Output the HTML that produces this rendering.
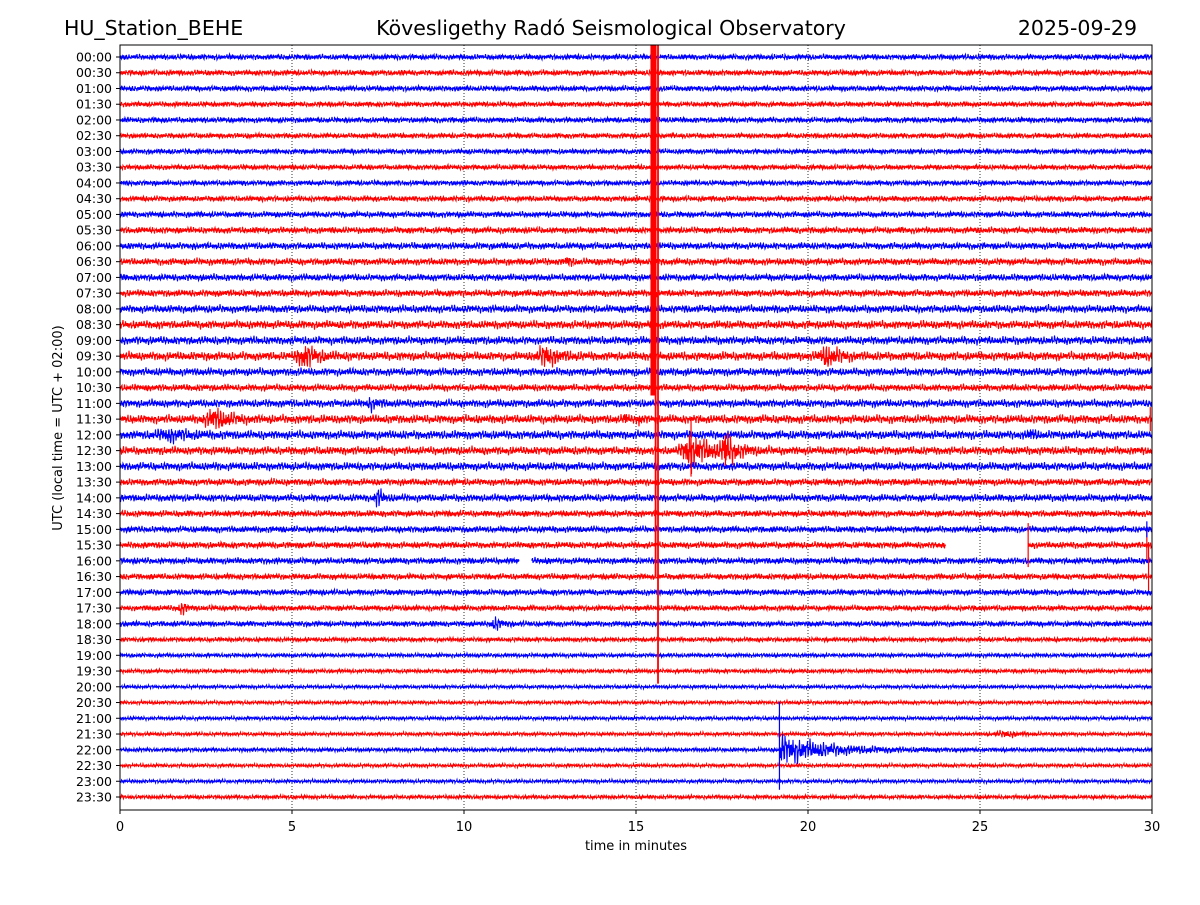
<!DOCTYPE html>
<html><head><meta charset="utf-8">
<style>
body{margin:0;background:#fff;}
svg text{font-family:"DejaVu Sans","Liberation Sans",sans-serif;}
</style></head>
<body>
<svg id="chart" width="1200" height="900" xmlns="http://www.w3.org/2000/svg">
<rect width="1200" height="900" fill="#fff"/>
<text x="64" y="35" font-size="20.5">HU_Station_BEHE</text>
<text x="611" y="35" font-size="20.5" text-anchor="middle">Kövesligethy Radó Seismological Observatory</text>
<text x="1137" y="35" font-size="20.5" text-anchor="end">2025-09-29</text>
<defs><clipPath id="clip"><rect x="120" y="45" width="1032" height="765"/></clipPath></defs>
<g id="grid"></g>
<g id="traces" clip-path="url(#clip)"></g>
<rect x="120" y="45" width="1032" height="765" fill="none" stroke="#000" stroke-width="1"/>
<g id="axes"></g>
<text x="636" y="850" font-size="13" text-anchor="middle">time in minutes</text>
<text transform="translate(62,428) rotate(-90)" font-size="13" text-anchor="middle">UTC (local time = UTC + 02:00)</text>
</svg>
<script>
const rowLabels = [];
for (let h = 0; h < 24; h++) { const hh = String(h).padStart(2,'0'); rowLabels.push(hh+':00', hh+':30'); }
const xTicks = [0,5,10,15,20,25,30];
const noiseLevel = [2.4,2.4,2.4,2.2,2.4,2.2,2.2,2.2,2.2,2.4,2.6,2.8,3,3,3,3,3.4,3.6,3.6,3.8,3.4,3,3.4,3.8,3.8,3.6,3.6,3,3.2,2.8,2.8,2.8,2.8,2.6,2.6,2.4,2.4,1.9,1.7,1.7,1.5,1.5,1.5,1.5,1.7,1.5,1.5,1.7];
const eventRow   = [13,19,19,19,22,23,23,23,24,24,25,25,28,35,36,44,43];
const eventTime  = [13,5.4,12.4,20.6,7.3,2.8,14.7,15.1,1.5,26.5,16.6,17.6,7.5,1.8,10.9,19.2,25.8];
const eventAmp   = [4,9,8,8,4,8,5,5,4,4,14,12,7,5,5,13,2.5];
const eventRise  = [0.05,0.25,0.25,0.25,0.1,0.3,0.05,0.05,0.4,0.1,0.25,0.12,0.1,0.1,0.1,0.02,0.3];
const eventDecay = [0.1,0.35,0.35,0.35,0.2,0.4,0.05,0.05,0.5,0.1,0.6,0.3,0.15,0.15,0.2,1.4,0.3];
const spikeRow  = [25,25,31,31,31,30,44,23];
const spikeTime = [16.6,17.6,26.4,29.85,29.9,29.85,19.17,29.95];
const spikeUp   = [30,15,22,15,3,8,48,12];
const spikeDown = [26,15,22,15,45,8,40,12];
const quakeTime = 15.5;
const quakeBlockWidth = 0.16;
const quakeBlockLastRow = 21.5;
const quakeLineTime = [15.57,15.64];
const quakeLineEndRow = [33,39.8];
const gapRow = [31,32];
const gapStart = [24.0,11.6];
const gapEnd = [26.4,11.95];

const X0=120, X1=1152, Y0=57, DY=(797-57)/47;
const xs = t => X0 + (t/30)*(X1-X0);
const ys = r => Y0 + r*DY;
const NS='http://www.w3.org/2000/svg';
const grid=document.getElementById('grid'), axes=document.getElementById('axes'), traces=document.getElementById('traces');

xTicks.forEach(t=>{
  if(t>0&&t<30){const l=document.createElementNS(NS,'line');
    
    
    l.setAttribute('x1',xs(t));l.setAttribute('x2',xs(t));l.setAttribute('y1',45);l.setAttribute('y2',810);
    l.setAttribute('stroke','#000');l.setAttribute('stroke-width','0.8');l.setAttribute('stroke-dasharray','1,2');grid.appendChild(l);}
  const tk=document.createElementNS(NS,'line');
  
  
  tk.setAttribute('x1',xs(t));tk.setAttribute('x2',xs(t));tk.setAttribute('y1',810);tk.setAttribute('y2',814);tk.setAttribute('stroke','#000');axes.appendChild(tk);
  const tx=document.createElementNS(NS,'text');
  
  
  tx.setAttribute('x',xs(t));tx.setAttribute('y',831);tx.setAttribute('font-size','13');tx.setAttribute('text-anchor','middle');tx.textContent=t;axes.appendChild(tx);
});
rowLabels.forEach((lab,r)=>{
  const tk=document.createElementNS(NS,'line');
  
  
  tk.setAttribute('x1',116);tk.setAttribute('x2',120);tk.setAttribute('y1',ys(r));tk.setAttribute('y2',ys(r));tk.setAttribute('stroke','#000');axes.appendChild(tk);
  const tx=document.createElementNS(NS,'text');
  
  
  tx.setAttribute('x',112);tx.setAttribute('y',ys(r)+4.5);tx.setAttribute('font-size','12.5');tx.setAttribute('text-anchor','end');tx.textContent=lab;axes.appendChild(tx);
});

function env(r,t){
  let a=noiseLevel[r];
  for(let i=0;i<eventRow.length;i++){
    if(eventRow[i]!==r)continue;
    const d=t-eventTime[i];
    const s=d<0?eventRise[i]:eventDecay[i];
    if(d<0) a+=eventAmp[i]*Math.exp(-(d/s)*(d/s));
    else a+=eventAmp[i]*Math.exp(-d/s);
  }
  return a;
}
function inGap(r,t){for(let i=0;i<gapRow.length;i++){if(gapRow[i]===r&&t>gapStart[i]&&t<gapEnd[i])return true;}return false;}

for(let r=0;r<rowLabels.length;r++){
  let d='',pen=false;
  const N=2064;
  const col=r%2===0?'#0000ff':'#ff0000';
  for(let i=0;i<=N;i++){
    const t=i/N*30;
    if(inGap(r,t)){pen=false;continue;}
    const w=Math.sin(i*2.37+r*1.3)*0.6+Math.sin(i*0.91+r*0.7)*0.3+Math.sin(i*5.13+r)*0.4+Math.sin(i*0.137+r*2.1)*0.15;
    const y=ys(r)+env(r,t)*w;
    d+=(pen?'L':'M')+xs(t).toFixed(1)+' '+y.toFixed(1);
    pen=true;
  }
  const p=document.createElementNS(NS,'path');
  
  
  p.setAttribute('d',d);p.setAttribute('fill','none');
  p.setAttribute('stroke',col);p.setAttribute('stroke-width','1.1');
  traces.appendChild(p);
}
for(let i=0;i<spikeRow.length;i++){
  const l=document.createElementNS(NS,'line');
  
  
  const x=xs(spikeTime[i]);
  l.setAttribute('x1',x);l.setAttribute('x2',x);
  l.setAttribute('y1',ys(spikeRow[i])-spikeUp[i]);l.setAttribute('y2',ys(spikeRow[i])+spikeDown[i]);
  l.setAttribute('stroke',spikeRow[i]%2===0?'#0000ff':'#ff0000');l.setAttribute('stroke-width','1.2');
  traces.appendChild(l);
}
const qb=document.createElementNS(NS,'rect');


qb.setAttribute('x',xs(quakeTime-quakeBlockWidth/2));qb.setAttribute('width',xs(quakeBlockWidth)-X0);
qb.setAttribute('y',45);qb.setAttribute('height',ys(quakeBlockLastRow)-45);qb.setAttribute('fill','#ff0000');
traces.appendChild(qb);
for(let i=0;i<quakeLineTime.length;i++){
  const l=document.createElementNS(NS,'line');
  
  
  const x=xs(quakeLineTime[i]);
  l.setAttribute('x1',x);l.setAttribute('x2',x);l.setAttribute('y1',45);l.setAttribute('y2',ys(quakeLineEndRow[i]));
  l.setAttribute('stroke','#ff0000');l.setAttribute('stroke-width','1.8');
  traces.appendChild(l);
}
</script>
</body></html>
